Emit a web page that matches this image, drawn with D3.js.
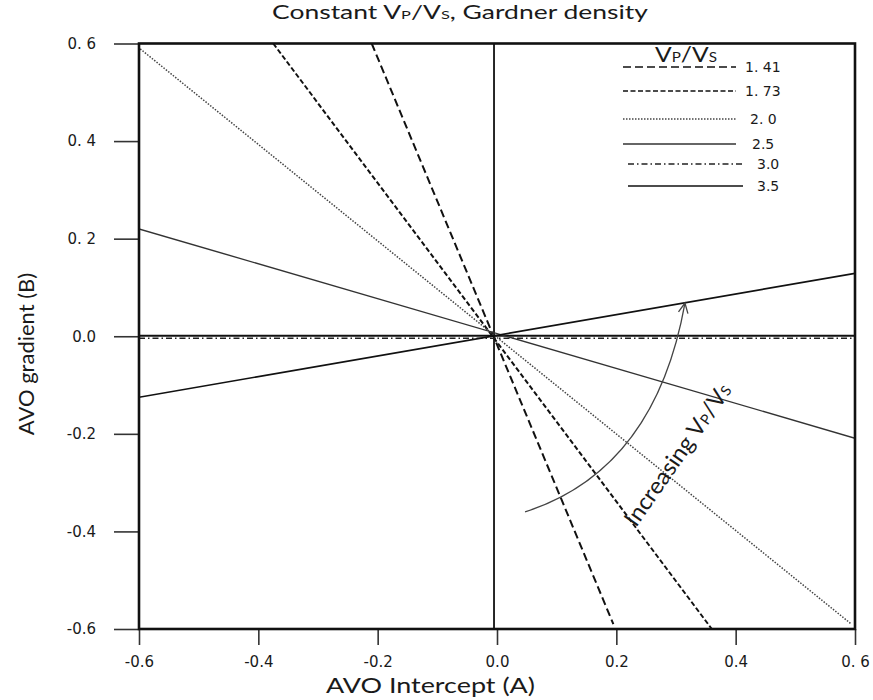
<!DOCTYPE html>
<html>
<head>
<meta charset="utf-8">
<script src="https://cdn.jsdelivr.net/npm/d3@7"></script>
<style>
  body { margin: 0; background: #fff; }
  svg text { fill: #1a1a1a; }
</style>
</head>
<body>
<svg id="chart" width="873" height="700"></svg>
<script>
// Vp/Vs ratios shown in the legend
const ratios = ["1. 41", "1. 73", "2. 0", "2.5", "3.0", "3.5"];
// Each trend line: intercept A at its two ends, and gradient B at those ends
const interceptEnds = [
  [-0.21, 0.195],
  [-0.375, 0.36],
  [-0.598, 0.594],
  [-0.6, 0.6],
  [-0.6, 0.6],
  [-0.6, 0.6]
];
const gradientEnds = [
  [0.6, -0.59],
  [0.6, -0.6],
  [0.589, -0.59],
  [0.22, -0.209],
  [-0.004, -0.004],
  [-0.125, 0.129]
];
const xTicks = [-0.6, -0.4, -0.2, 0, 0.2, 0.4, 0.6];
const xTickLabels = ["-0.6", "-0.4", "-0.2", "0.0", "0.2", "0.4", "0. 6"];
const yTicks = [0.6, 0.4, 0.2, 0, -0.2, -0.4, -0.6];
const yTickLabels = ["0. 6", "0. 4", "0. 2", "0.0", "-0.2", "-0.4", "-0.6"];
// Curved "increasing Vp/Vs" arrow: start, control, end (A, B)
const arrowA = [0.047, 0.265, 0.315];
const arrowB = [-0.360, -0.274, 0.068];
// Crossing point of the reference axes (A, B)
const crossA = -0.005;
const crossB = 0.001;

// ---- drawing styles per ratio ----
const lineStyles = [
  { dash: "8,4", width: 2, color: "#111" },
  { dash: "5,2.5", width: 2, color: "#111" },
  { dash: "1.5,1.5", width: 1.5, color: "#444" },
  { dash: null, width: 1.4, color: "#333" },
  { dash: "6,3,1.5,3", width: 1.5, color: "#222" },
  { dash: null, width: 1.7, color: "#111" }
];

const svg = d3.select("#chart");
const plot = { left: 139, right: 855, top: 43.5, bottom: 629 };

const x = d3.scaleLinear().domain([-0.6, 0.6]).range([plot.left, plot.right]);
const y = d3.scaleLinear().domain([-0.6, 0.6]).range([plot.bottom, plot.top]);

const tickFont = "DejaVu Sans, Verdana, sans-serif";
const labelFont = "Lato, 'Open Sans', sans-serif";

// ---- axes ----
const xAxis = d3.axisBottom(x)
  .tickValues(xTicks)
  .tickFormat((d, i) => xTickLabels[i])
  .tickSize(16)
  .tickPadding(11);
const gx = svg.append("g").attr("transform", `translate(0,${plot.bottom})`).call(xAxis);

const yAxis = d3.axisLeft(y)
  .tickValues(yTicks)
  .tickFormat((d, i) => yTickLabels[i])
  .tickSize(25)
  .tickPadding(18);
const gy = svg.append("g").attr("transform", `translate(${plot.left},0)`).call(yAxis);

[gx, gy].forEach(g => {
  g.select(".domain").remove();
  g.selectAll(".tick line").attr("stroke", "#333").attr("stroke-width", 1.6);
  g.selectAll(".tick text")
    .attr("font-family", tickFont)
    .attr("font-size", 15)
    .attr("fill", "#222");
});

// ---- trend lines ----
const lineGen = d3.line().x(d => x(d[0])).y(d => y(d[1]));
const seriesPts = ratios.map((r, i) => [
  [interceptEnds[i][0], gradientEnds[i][0]],
  [interceptEnds[i][1], gradientEnds[i][1]]
]);

svg.append("clipPath").attr("id", "plotClip")
  .append("rect")
  .attr("x", plot.left).attr("y", plot.top)
  .attr("width", plot.right - plot.left).attr("height", plot.bottom - plot.top);

const linesG = svg.append("g").attr("clip-path", "url(#plotClip)");

// reference axes through the origin
linesG.append("line")
  .attr("x1", x(-0.6)).attr("x2", x(0.6))
  .attr("y1", y(crossB)).attr("y2", y(crossB))
  .attr("stroke", "#111").attr("stroke-width", 1.8);
linesG.append("line")
  .attr("x1", x(crossA)).attr("x2", x(crossA))
  .attr("y1", y(0.6)).attr("y2", y(-0.6))
  .attr("stroke", "#111").attr("stroke-width", 1.8);

linesG.selectAll("path.trend")
  .data(seriesPts)
  .join("path")
  .attr("class", "trend")
  .attr("d", lineGen)
  .attr("fill", "none")
  .attr("stroke", (d, i) => lineStyles[i].color)
  .attr("stroke-width", (d, i) => lineStyles[i].width)
  .attr("stroke-dasharray", (d, i) => lineStyles[i].dash);

// ---- frame ----
svg.append("rect")
  .attr("x", plot.left).attr("y", plot.top)
  .attr("width", plot.right - plot.left).attr("height", plot.bottom - plot.top)
  .attr("fill", "none").attr("stroke", "#111").attr("stroke-width", 2.6);

// ---- curved arrow ----
const p0 = [x(arrowA[0]), y(arrowB[0])];
const pc = [x(arrowA[1]), y(arrowB[1])];
const p1 = [x(arrowA[2]), y(arrowB[2])];
const arc = d3.path();
arc.moveTo(p0[0], p0[1]);
arc.quadraticCurveTo(pc[0], pc[1], p1[0], p1[1]);
svg.append("path").attr("d", arc.toString())
  .attr("fill", "none").attr("stroke", "#444").attr("stroke-width", 1.3);

// open arrowhead aligned with the curve's end tangent
const ang = Math.atan2(p1[1] - pc[1], p1[0] - pc[0]);
const headLen = 11, headSpread = 0.45;
const head = d3.path();
head.moveTo(p1[0] - headLen * Math.cos(ang - headSpread), p1[1] - headLen * Math.sin(ang - headSpread));
head.lineTo(p1[0], p1[1]);
head.lineTo(p1[0] - headLen * Math.cos(ang + headSpread), p1[1] - headLen * Math.sin(ang + headSpread));
svg.append("path").attr("d", head.toString())
  .attr("fill", "none").attr("stroke", "#444").attr("stroke-width", 1.3);

// text helper: "V" with small subscript-like letters
function vpvs(sel, size) {
  sel.append("tspan").text("V");
  sel.append("tspan").attr("font-size", size * 0.62).text("P");
  sel.append("tspan").text("/V");
  sel.append("tspan").attr("font-size", size * 0.62).text("S");
}

// "Increasing Vp/Vs" label along the arrow
const incA = 0.233, incB = -0.393;
const inc = svg.append("text")
  .attr("transform", `translate(${x(incA)},${y(incB)}) rotate(-55)`)
  .attr("font-family", labelFont)
  .attr("font-size", 23)
  .attr("textLength", 168)
  .attr("lengthAdjust", "spacingAndGlyphs");
inc.append("tspan").text("Increasing ");
vpvs(inc, 23);

// ---- title ----
const title = svg.append("text")
  .attr("x", 272).attr("y", 19)
  .attr("font-family", labelFont)
  .attr("font-size", 19.5)
  .attr("textLength", 376)
  .attr("lengthAdjust", "spacingAndGlyphs");
title.append("tspan").text("Constant ");
vpvs(title, 19.5);
title.append("tspan").text(", Gardner density");

// ---- axis titles ----
svg.append("text")
  .attr("x", 326).attr("y", 693)
  .attr("font-family", labelFont)
  .attr("font-size", 22)
  .attr("textLength", 209)
  .attr("lengthAdjust", "spacingAndGlyphs")
  .text("AVO Intercept (A)");

svg.append("text")
  .attr("transform", "translate(34,354) rotate(-90)")
  .attr("text-anchor", "middle")
  .attr("font-family", labelFont)
  .attr("font-size", 22)
  .text("AVO gradient (B)");

// ---- legend ----
const legend = svg.append("g");
const header = legend.append("text")
  .attr("x", 655).attr("y", 62)
  .attr("font-family", labelFont)
  .attr("font-size", 21)
  .attr("textLength", 62)
  .attr("lengthAdjust", "spacingAndGlyphs");
vpvs(header, 21);

const legendRowY = [67, 91, 119, 144, 164, 186];
const legendX0 = [623, 623, 623, 623, 628, 628];
const legendX1 = [736, 736, 736, 736, 743, 743];
const legendLabelX = [745, 745, 750, 752, 757, 757];

const rows = legend.selectAll("g.row")
  .data(ratios)
  .join("g")
  .attr("class", "row");

rows.append("line")
  .attr("x1", (d, i) => legendX0[i]).attr("x2", (d, i) => legendX1[i])
  .attr("y1", (d, i) => legendRowY[i]).attr("y2", (d, i) => legendRowY[i])
  .attr("stroke", (d, i) => lineStyles[i].color)
  .attr("stroke-width", (d, i) => Math.min(lineStyles[i].width, 1.6))
  .attr("stroke-dasharray", (d, i) => lineStyles[i].dash);

rows.append("text")
  .attr("x", (d, i) => legendLabelX[i])
  .attr("y", (d, i) => legendRowY[i])
  .attr("dy", "0.35em")
  .attr("font-family", tickFont)
  .attr("font-size", 14)
  .attr("fill", "#222")
  .text(d => d);
</script>
</body>
</html>
